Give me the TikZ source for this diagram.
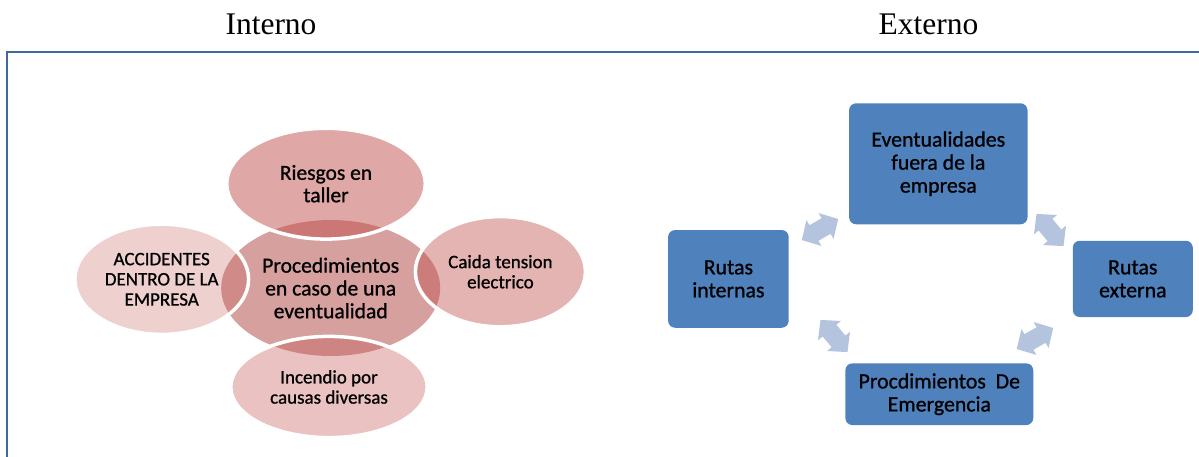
\documentclass[tikz,border=0pt]{standalone}
\usepackage{fontspec}
\setmainfont{Carlito}[FakeBold=0.9]
\newfontfamily\heavy{Carlito}[FakeBold=0.9]
\newfontfamily\titlefont{Liberation Serif}
\usetikzlibrary{shapes.geometric}
\definecolor{redacc}{HTML}{C0504D}
\definecolor{ctrfill}{RGB}{214,160,159}
\definecolor{boxblue}{HTML}{4F81BD}
\definecolor{arrowblue}{RGB}{180,195,222}
\definecolor{framecol}{RGB}{66,104,158}
\begin{document}
\begin{tikzpicture}[x=1pt,y=-1pt,
  title/.style={font=\titlefont\fontsize{31.5}{36}\selectfont, inner sep=0pt, anchor=base},
  ctr/.style={ellipse, fill=ctrfill, inner sep=0pt, align=center,
    font=\heavy\fontsize{21.6}{22.8}\selectfont},
  petal/.style={ellipse, draw=white, line width=3.5pt, fill=redacc, text opacity=1,
    inner sep=0pt, align=center},
  bigtxt/.style={font=\heavy\fontsize{21.5}{22.4}\selectfont},
  smalltxt/.style={font=\heavy\fontsize{19}{20.2}\selectfont},
  bluebox/.style={rectangle, rounded corners=7pt, fill=boxblue, inner sep=0pt, align=center,
    font=\heavy\fontsize{21.8}{23}\selectfont},
  dblarrow/.pic={\fill[arrowblue] (21,0) -- (7,15) -- (7,9) -- (-7,9) -- (-7,15) -- (-21,0)
     -- (-7,-15) -- (-7,-9) -- (7,-9) -- (7,-15) -- cycle;}
]
\useasboundingbox (0,0) rectangle (1199,457);
% frame
\draw[framecol, line width=1.6pt] (7,457) -- (7,52) -- (1199,52);
% titles
\node[title] (tint) at (271,35) {Interno};
\node[title] (text) at (928.5,35) {Externo};
% left diagram
\node[ctr, minimum width=219pt, minimum height=136pt] (proc) at (330.7,288)
  {Procedimientos\\en caso de una\\eventualidad};
\node[petal, bigtxt, fill opacity=0.5, minimum width=198.6pt, minimum height=110.8pt] (ries) at (326,183.7)
  {Riesgos en\\taller};
\node[petal, smalltxt, fill opacity=0.27, minimum width=173.8pt, minimum height=110.2pt] (acc) at (161.7,279.3)
  {ACCIDENTES\\DENTRO DE LA\\EMPRESA};
\node[petal, smalltxt, fill opacity=0.43, minimum width=170pt, minimum height=110.2pt] (cai) at (500.4,271.7)
  {Caida tension\\electrico};
\node[petal, smalltxt, fill opacity=0.35, minimum width=196.4pt, minimum height=101.2pt] (inc) at (329,387)
  {Incendio por\\causas diversas};
% right diagram
\node[bluebox, minimum width=178.4pt, minimum height=121pt] (evt) at (938.3,163.8)
  {Eventualidades\\fuera de la\\empresa};
\node[bluebox, minimum width=120.6pt, minimum height=97.7pt] (rint) at (728.4,278.9)
  {Rutas\\internas};
\node[bluebox, minimum width=120pt, minimum height=76.3pt] (rext) at (1132.8,278.9)
  {Rutas\\externa};
\node[bluebox, minimum width=187.9pt, minimum height=61.7pt] (emer) at (939.3,394.2)
  {Procdimientos\ \ De\\Emergencia};
% arrows
\pic[rotate=30] at (820,229.5) {dblarrow};
\pic[rotate=-50] at (1050,230) {dblarrow};
\pic[rotate=-50] at (834,336) {dblarrow};
\pic[rotate=30] at (1035,338.5) {dblarrow};
\end{tikzpicture}
\end{document}
